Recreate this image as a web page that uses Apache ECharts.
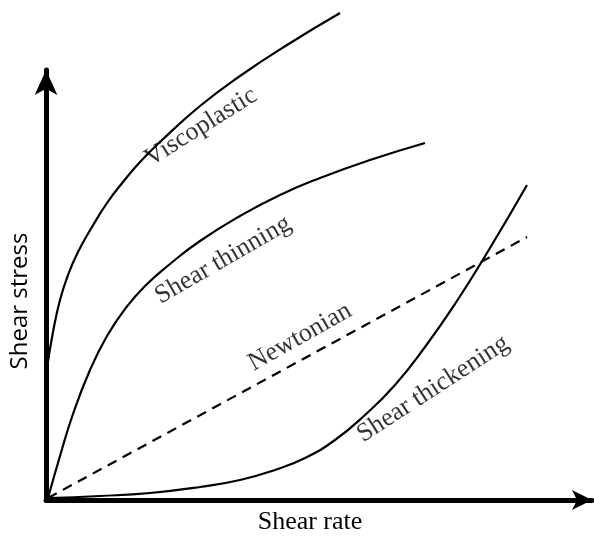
<!DOCTYPE html>
<html>
<head>
<meta charset="utf-8">
<script src="https://cdn.jsdelivr.net/npm/echarts@6/dist/echarts.min.js"></script>
<style>html,body{margin:0;padding:0;background:#fff}#c{width:594px;height:540px}</style>
</head>
<body>
<div id="c"></div>
<script>
// Data (x = shear rate, y = shear stress, arbitrary units)
const viscoplastic = [[1,132],[7,168],[14,200],[22,225],[32,248],[46,273],[61,297],[77,318],[94,338],[114,358],[154,394],[194,424],[241,455],[294,487]];
const shearThinning = [[2,2],[14,44],[27,86],[44,130],[61,164],[79,191],[99,214],[124,236],[154,259],[194,284],[234,305],[274,322],[324,340],[379,357]];
const newtonian = [[2,2],[481,263]];
const shearThickening = [[2,2],[54,4],[104,7],[154,13],[194,20],[229,30],[259,42],[289,60],[319,85],[349,115],[379,153],[409,196],[444,252],[481,315]];
// label anchors (centre of each curve label) and their rotation
const labelNames = ['Viscoplastic','Shear thinning','Newtonian','Shear thickening'];
const labelPos = [[155,373],[177,240],[254,163],[387,111]];
const labelRot = [32,30,29.5,33];
const xName = 'Shear rate';
const yName = 'Shear stress';

const chart = echarts.init(document.getElementById('c'));
const lineBase = {type:'line', showSymbol:false, symbol:'none', smooth:0.5, clip:false, silent:true,
  lineStyle:{color:'#000', width:2.2}};
const serif = '"Liberation Serif","Times New Roman",serif';
chart.setOption({
  backgroundColor:'#fff',
  animation:false,
  grid:{left:46, right:2, top:70, bottom:40, containLabel:false, outerBoundsMode:'none'},
  xAxis:{type:'value', min:0, max:546, name:xName, nameLocation:'middle', nameGap:9,
    nameTextStyle:{fontFamily:serif, fontSize:26, color:'#000', padding:[0,18,0,0]},
    axisLine:{show:true, lineStyle:{color:'#000', width:5}, symbol:['none','arrow'], symbolSize:[15,20]},
    axisTick:{show:false}, axisLabel:{show:false}, splitLine:{show:false}},
  yAxis:{type:'value', min:0, max:430, name:yName, nameLocation:'middle', nameGap:14,
    nameTextStyle:{fontFamily:'"Open Sans",sans-serif', fontSize:24, color:'#000', padding:[0,32,0,0]},
    axisLine:{show:true, lineStyle:{color:'#000', width:5}, symbol:['none','arrow'], symbolSize:[17,25]},
    axisTick:{show:false}, axisLabel:{show:false}, splitLine:{show:false}},
  series:[
    Object.assign({}, lineBase, {name:'Viscoplastic', data:viscoplastic}),
    Object.assign({}, lineBase, {name:'Shear thinning', data:shearThinning}),
    Object.assign({}, lineBase, {name:'Newtonian', data:newtonian, smooth:false, lineStyle:{color:'#000', width:2.2, type:[10,7]}}),
    Object.assign({}, lineBase, {name:'Shear thickening', data:shearThickening}),
    {type:'scatter', silent:true, symbolSize:1, itemStyle:{color:'rgba(0,0,0,0)'},
     data: labelNames.map((n,i)=>({name:n, value:labelPos[i],
       label:{show:true, position:'inside', formatter:n, rotate:labelRot[i], fontFamily:serif, fontSize:26, color:'#000'}}))}
  ]
});
</script>
</body>
</html>
